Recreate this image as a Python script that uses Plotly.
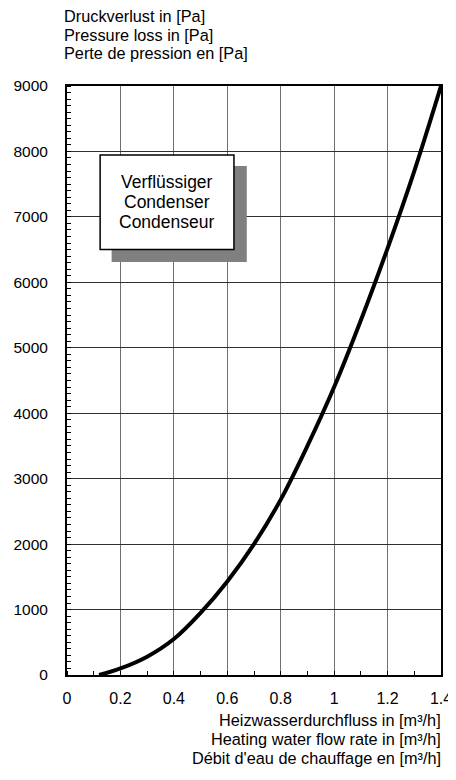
import plotly.graph_objects as go

# flow rate [m3/h] and pressure loss [Pa]
flow = [0.12, 0.2, 0.3, 0.4, 0.5, 0.6, 0.7, 0.8, 0.9, 1.0, 1.1, 1.2, 1.3, 1.4]
dp = [0, 100, 280, 550, 950, 1430, 2000, 2680, 3500, 4400, 5420, 6520, 7700, 9000]

x_ticks = [0, 0.2, 0.4, 0.6, 0.8, 1.0, 1.2, 1.4]
y_ticks = [0, 1000, 2000, 3000, 4000, 5000, 6000, 7000, 8000, 9000]

y_title = ["Druckverlust in [Pa]", "Pressure loss in [Pa]", "Perte de pression en [Pa]"]
x_title = ["Heizwasserdurchfluss in [m³/h]", "Heating water flow rate in [m³/h]",
           "Débit d'eau de chauffage en [m³/h]"]
label = ["Verflüssiger", "Condenser", "Condenseur"]

FONT = "Arial, Liberation Sans, sans-serif"

fig = go.Figure()
fig.add_trace(go.Scatter(x=flow, y=dp, mode="lines",
                         line=dict(color="black", width=4, shape="spline", smoothing=1.0),
                         hoverinfo="skip", showlegend=False))

# label box with shadow
fig.add_shape(type="rect", xref="x", yref="y", x0=0.167, x1=0.673, y0=6312, y1=7778,
              fillcolor="#808080", line=dict(width=0), layer="above")
fig.add_shape(type="rect", xref="x", yref="y", x0=0.124, x1=0.625, y0=6503, y1=7946,
              fillcolor="white", line=dict(color="black", width=1.5), layer="above")
for i, t in enumerate(label):
    fig.add_annotation(x=0.3745, y=7530 - i * 305, xref="x", yref="y", text=t,
                       showarrow=False, yanchor="middle",
                       font=dict(size=17.5, color="black", family=FONT))

for i, t in enumerate(y_title):
    fig.add_annotation(x=-0.014, y=1.118 - i * 0.0306, xref="paper", yref="paper",
                       text=t, showarrow=False, xanchor="left", yanchor="middle",
                       font=dict(size=16.3, color="black", family=FONT))
for i, t in enumerate(x_title):
    fig.add_annotation(x=1.005, y=-0.076 - i * 0.0323, xref="paper", yref="paper",
                       text=t, showarrow=False, xanchor="right", yanchor="middle",
                       font=dict(size=16.3, color="black", family=FONT))

fig.update_xaxes(range=[0, 1.4], tickvals=x_ticks, showgrid=True, gridcolor="#707070",
                 gridwidth=1, showline=True, linecolor="black", linewidth=2, mirror=True,
                 ticks="", zeroline=False, ticklabelstandoff=8, automargin=False,
                 ticklabeloverflow="allow",
                 minor=dict(ticks="inside", dtick=0.1, tick0=0.1, ticklen=4,
                            tickcolor="black", showgrid=False),
                 tickfont=dict(size=16, color="black", family=FONT))
fig.update_yaxes(range=[0, 9000], tickvals=y_ticks, showgrid=True, gridcolor="#303030",
                 gridwidth=1, showline=True, linecolor="black", linewidth=2, mirror=True,
                 ticks="", zeroline=False, ticklabelstandoff=14, automargin=False,
                 minor=dict(ticks="inside", dtick=100, ticklen=4,
                            tickcolor="black", showgrid=False),
                 tickfont=dict(size=15.5, color="black", family=FONT))

# page body has an 8px margin; keep the figure inside the window (no scrollbar)
fig.update_layout(width=448, height=764, plot_bgcolor="white", paper_bgcolor="white",
                  margin=dict(l=59, r=15, t=78, b=97), font=dict(family=FONT))

fig.write_html("out.html")
